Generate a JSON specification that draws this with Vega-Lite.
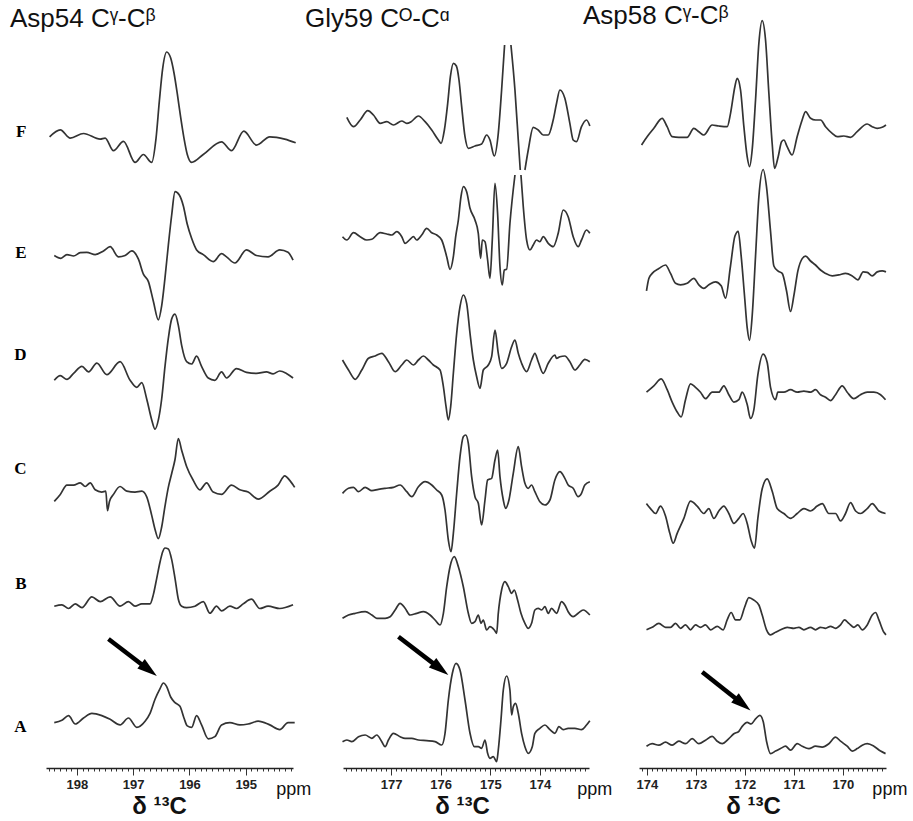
{
"$schema": "https://vega.github.io/schema/vega-lite/v6.json",
"padding": {"left": 10, "top": 3, "right": 5, "bottom": 5},
"bounds": "flush",
"spacing": 50,
"resolve": {"scale": {"x": "independent", "y": "independent"}},
"config": {
  "view": {"stroke": null},
  "font": "Liberation Sans",
  "title": {"font": "Liberation Sans", "fontSize": 26, "fontWeight": "normal", "color": "#111", "anchor": "start", "baseline": "alphabetic", "offset": -12, "frame": "group"},
  "line": {"color": "#333", "strokeWidth": 1.7, "interpolate": "monotone"}
},
"datasets": {
"arrows": [
 {"panel":"Asp54","ppm0":197.44,"amp0":129,"ppm1":196.79,"amp1":101,"ppm2":196.58,"amp2":92},
 {"panel":"Gly59","ppm0":176.852,"amp0":131.3,"ppm1":176.086,"amp1":102.1,"ppm2":175.846,"amp2":93},
 {"panel":"Asp58","ppm0":172.87,"amp0":96.1,"ppm1":172.123,"amp1":66.9,"ppm2":171.884,"amp2":57.5}
],
"notes": [
 {"panel":"Asp54","ppm":194.147,"amp":-27,"text":"ppm"},
 {"panel":"Gly59","ppm":172.893,"amp":-27,"text":"ppm"},
 {"panel":"Asp58","ppm":169.041,"amp":-27,"text":"ppm"}
],
"asp54": [
{"row":"F","ppm":198.486,"amp":631.2},{"row":"F","ppm":198.296,"amp":638.2},{"row":"F","ppm":198.119,"amp":629.9},{"row":"F","ppm":197.883,"amp":634.5},{"row":"F","ppm":197.587,"amp":628.9},{"row":"F","ppm":197.499,"amp":629.9},{"row":"F","ppm":197.351,"amp":617.3},{"row":"F","ppm":197.173,"amp":626.6},{"row":"F","ppm":196.967,"amp":605.6},{"row":"F","ppm":196.819,"amp":613.5},{"row":"F","ppm":196.671,"amp":605.6},{"row":"F","ppm":196.594,"amp":629.9},{"row":"F","ppm":196.535,"amp":667.1},{"row":"F","ppm":196.476,"amp":699.7},{"row":"F","ppm":196.405,"amp":716.0},{"row":"F","ppm":196.334,"amp":709.9},{"row":"F","ppm":196.275,"amp":695.0},{"row":"F","ppm":196.216,"amp":674.1},{"row":"F","ppm":196.157,"amp":650.8},{"row":"F","ppm":196.098,"amp":629.9},{"row":"F","ppm":196.039,"amp":613.5},{"row":"F","ppm":195.962,"amp":605.6},{"row":"F","ppm":195.755,"amp":613.5},{"row":"F","ppm":195.430,"amp":626.1},{"row":"F","ppm":195.253,"amp":617.3},{"row":"F","ppm":195.034,"amp":636.8},{"row":"F","ppm":194.809,"amp":622.9},{"row":"F","ppm":194.573,"amp":631.2},{"row":"F","ppm":194.307,"amp":628.9},{"row":"F","ppm":194.112,"amp":625.2},
{"row":"E","ppm":198.403,"amp":512.5},{"row":"E","ppm":198.285,"amp":509.7},{"row":"E","ppm":198.178,"amp":513.4},{"row":"E","ppm":198.060,"amp":512.0},{"row":"E","ppm":197.942,"amp":515.3},{"row":"E","ppm":197.824,"amp":515.7},{"row":"E","ppm":197.676,"amp":513.4},{"row":"E","ppm":197.528,"amp":517.1},{"row":"E","ppm":197.410,"amp":521.3},{"row":"E","ppm":197.262,"amp":511.1},{"row":"E","ppm":197.144,"amp":512.5},{"row":"E","ppm":197.026,"amp":517.1},{"row":"E","ppm":196.907,"amp":508.8},{"row":"E","ppm":196.819,"amp":493.9},{"row":"E","ppm":196.730,"amp":486.4},{"row":"E","ppm":196.642,"amp":466.8},{"row":"E","ppm":196.553,"amp":448.2},{"row":"E","ppm":196.494,"amp":462.2},{"row":"E","ppm":196.435,"amp":490.1},{"row":"E","ppm":196.376,"amp":522.7},{"row":"E","ppm":196.316,"amp":553.0},{"row":"E","ppm":196.257,"amp":576.3},{"row":"E","ppm":196.181,"amp":573.0},{"row":"E","ppm":196.110,"amp":562.3},{"row":"E","ppm":196.039,"amp":543.7},{"row":"E","ppm":195.962,"amp":529.7},{"row":"E","ppm":195.873,"amp":518.1},{"row":"E","ppm":195.755,"amp":513.4},{"row":"E","ppm":195.578,"amp":506.4},{"row":"E","ppm":195.430,"amp":514.3},{"row":"E","ppm":195.341,"amp":511.1},{"row":"E","ppm":195.193,"amp":505.0},{"row":"E","ppm":194.987,"amp":518.1},{"row":"E","ppm":194.809,"amp":512.5},{"row":"E","ppm":194.603,"amp":511.1},{"row":"E","ppm":194.396,"amp":518.1},{"row":"E","ppm":194.248,"amp":515.7},{"row":"E","ppm":194.159,"amp":507.8},
{"row":"D","ppm":198.403,"amp":387.7},{"row":"D","ppm":198.296,"amp":392.3},{"row":"D","ppm":198.178,"amp":388.6},{"row":"D","ppm":198.060,"amp":394.6},{"row":"D","ppm":197.912,"amp":401.6},{"row":"D","ppm":197.794,"amp":396.1},{"row":"D","ppm":197.646,"amp":404.9},{"row":"D","ppm":197.469,"amp":393.3},{"row":"D","ppm":197.233,"amp":406.3},{"row":"D","ppm":197.055,"amp":387.7},{"row":"D","ppm":196.937,"amp":380.7},{"row":"D","ppm":196.848,"amp":385.3},{"row":"D","ppm":196.760,"amp":369.0},{"row":"D","ppm":196.671,"amp":348.1},{"row":"D","ppm":196.612,"amp":338.8},{"row":"D","ppm":196.553,"amp":348.1},{"row":"D","ppm":196.494,"amp":369.0},{"row":"D","ppm":196.435,"amp":401.6},{"row":"D","ppm":196.376,"amp":429.6},{"row":"D","ppm":196.316,"amp":449.1},{"row":"D","ppm":196.257,"amp":453.8},{"row":"D","ppm":196.198,"amp":442.6},{"row":"D","ppm":196.139,"amp":422.6},{"row":"D","ppm":196.051,"amp":406.3},{"row":"D","ppm":195.962,"amp":404.0},{"row":"D","ppm":195.873,"amp":411.9},{"row":"D","ppm":195.785,"amp":401.6},{"row":"D","ppm":195.666,"amp":390.0},{"row":"D","ppm":195.548,"amp":387.7},{"row":"D","ppm":195.430,"amp":396.1},{"row":"D","ppm":195.341,"amp":390.0},{"row":"D","ppm":195.164,"amp":399.3},{"row":"D","ppm":194.987,"amp":395.6},{"row":"D","ppm":194.809,"amp":394.6},{"row":"D","ppm":194.632,"amp":396.1},{"row":"D","ppm":194.514,"amp":394.2},{"row":"D","ppm":194.396,"amp":397.0},{"row":"D","ppm":194.277,"amp":394.6},{"row":"D","ppm":194.159,"amp":390.0},
{"row":"C","ppm":198.403,"amp":266.6},{"row":"C","ppm":198.296,"amp":273.6},{"row":"C","ppm":198.178,"amp":282.9},{"row":"C","ppm":198.060,"amp":282.9},{"row":"C","ppm":197.942,"amp":285.2},{"row":"C","ppm":197.853,"amp":281.5},{"row":"C","ppm":197.764,"amp":285.2},{"row":"C","ppm":197.676,"amp":278.2},{"row":"C","ppm":197.558,"amp":275.9},{"row":"C","ppm":197.487,"amp":276.8},{"row":"C","ppm":197.457,"amp":257.3},{"row":"C","ppm":197.422,"amp":266.6},{"row":"C","ppm":197.351,"amp":273.6},{"row":"C","ppm":197.233,"amp":281.5},{"row":"C","ppm":197.114,"amp":276.8},{"row":"C","ppm":196.967,"amp":275.9},{"row":"C","ppm":196.848,"amp":276.8},{"row":"C","ppm":196.760,"amp":271.2},{"row":"C","ppm":196.671,"amp":252.6},{"row":"C","ppm":196.612,"amp":238.6},{"row":"C","ppm":196.553,"amp":229.3},{"row":"C","ppm":196.494,"amp":241.0},{"row":"C","ppm":196.435,"amp":261.9},{"row":"C","ppm":196.376,"amp":280.6},{"row":"C","ppm":196.316,"amp":294.5},{"row":"C","ppm":196.257,"amp":308.5},{"row":"C","ppm":196.198,"amp":329.5},{"row":"C","ppm":196.139,"amp":317.8},{"row":"C","ppm":196.051,"amp":301.5},{"row":"C","ppm":195.932,"amp":287.6},{"row":"C","ppm":195.814,"amp":278.2},{"row":"C","ppm":195.696,"amp":285.2},{"row":"C","ppm":195.578,"amp":275.9},{"row":"C","ppm":195.430,"amp":273.6},{"row":"C","ppm":195.253,"amp":282.9},{"row":"C","ppm":195.105,"amp":278.2},{"row":"C","ppm":194.957,"amp":275.9},{"row":"C","ppm":194.780,"amp":268.9},{"row":"C","ppm":194.573,"amp":276.8},{"row":"C","ppm":194.425,"amp":282.9},{"row":"C","ppm":194.307,"amp":292.2},{"row":"C","ppm":194.218,"amp":287.6},{"row":"C","ppm":194.130,"amp":280.6},
{"row":"B","ppm":198.403,"amp":161.8},{"row":"B","ppm":198.267,"amp":163.2},{"row":"B","ppm":198.149,"amp":159.5},{"row":"B","ppm":198.030,"amp":164.1},{"row":"B","ppm":197.912,"amp":160.4},{"row":"B","ppm":197.735,"amp":171.1},{"row":"B","ppm":197.587,"amp":166.4},{"row":"B","ppm":197.410,"amp":171.1},{"row":"B","ppm":197.233,"amp":161.8},{"row":"B","ppm":197.085,"amp":166.4},{"row":"B","ppm":196.967,"amp":161.8},{"row":"B","ppm":196.848,"amp":164.1},{"row":"B","ppm":196.701,"amp":164.1},{"row":"B","ppm":196.642,"amp":173.4},{"row":"B","ppm":196.582,"amp":189.7},{"row":"B","ppm":196.523,"amp":206.0},{"row":"B","ppm":196.476,"amp":216.3},{"row":"B","ppm":196.435,"amp":220.0},{"row":"B","ppm":196.376,"amp":219.1},{"row":"B","ppm":196.316,"amp":208.4},{"row":"B","ppm":196.257,"amp":189.7},{"row":"B","ppm":196.198,"amp":168.8},{"row":"B","ppm":196.139,"amp":161.8},{"row":"B","ppm":196.051,"amp":160.4},{"row":"B","ppm":195.903,"amp":161.8},{"row":"B","ppm":195.755,"amp":166.4},{"row":"B","ppm":195.637,"amp":154.8},{"row":"B","ppm":195.519,"amp":161.8},{"row":"B","ppm":195.430,"amp":157.1},{"row":"B","ppm":195.282,"amp":161.8},{"row":"B","ppm":195.164,"amp":159.5},{"row":"B","ppm":195.046,"amp":164.1},{"row":"B","ppm":194.898,"amp":168.8},{"row":"B","ppm":194.750,"amp":159.5},{"row":"B","ppm":194.603,"amp":161.8},{"row":"B","ppm":194.396,"amp":159.5},{"row":"B","ppm":194.159,"amp":163.2},
{"row":"A","ppm":198.403,"amp":45.4},{"row":"A","ppm":198.267,"amp":47.7},{"row":"A","ppm":198.149,"amp":52.4},{"row":"A","ppm":198.030,"amp":44.0},{"row":"A","ppm":197.883,"amp":50.0},{"row":"A","ppm":197.735,"amp":54.7},{"row":"A","ppm":197.558,"amp":52.4},{"row":"A","ppm":197.410,"amp":48.7},{"row":"A","ppm":197.233,"amp":43.1},{"row":"A","ppm":197.085,"amp":50.0},{"row":"A","ppm":196.937,"amp":40.7},{"row":"A","ppm":196.789,"amp":46.8},{"row":"A","ppm":196.701,"amp":54.7},{"row":"A","ppm":196.612,"amp":68.7},{"row":"A","ppm":196.523,"amp":79.4},{"row":"A","ppm":196.464,"amp":85.0},{"row":"A","ppm":196.405,"amp":81.3},{"row":"A","ppm":196.334,"amp":71.0},{"row":"A","ppm":196.257,"amp":65.4},{"row":"A","ppm":196.169,"amp":61.7},{"row":"A","ppm":196.098,"amp":50.0},{"row":"A","ppm":196.039,"amp":42.1},{"row":"A","ppm":195.962,"amp":40.7},{"row":"A","ppm":195.873,"amp":52.4},{"row":"A","ppm":195.785,"amp":43.1},{"row":"A","ppm":195.666,"amp":29.1},{"row":"A","ppm":195.548,"amp":31.4},{"row":"A","ppm":195.430,"amp":43.1},{"row":"A","ppm":195.282,"amp":45.4},{"row":"A","ppm":195.105,"amp":43.1},{"row":"A","ppm":194.957,"amp":44.0},{"row":"A","ppm":194.780,"amp":46.8},{"row":"A","ppm":194.573,"amp":43.1},{"row":"A","ppm":194.396,"amp":38.4},{"row":"A","ppm":194.248,"amp":45.4},{"row":"A","ppm":194.130,"amp":45.4}
],
"gly59": [
{"row":"F","ppm":177.893,"amp":650.7},{"row":"F","ppm":177.758,"amp":641.3},{"row":"F","ppm":177.624,"amp":648.0},{"row":"F","ppm":177.470,"amp":657.3},{"row":"F","ppm":177.356,"amp":653.0},{"row":"F","ppm":177.221,"amp":644.7},{"row":"F","ppm":177.087,"amp":646.3},{"row":"F","ppm":176.953,"amp":643.0},{"row":"F","ppm":176.785,"amp":647.0},{"row":"F","ppm":176.685,"amp":644.7},{"row":"F","ppm":176.597,"amp":646.3},{"row":"F","ppm":176.450,"amp":652.0},{"row":"F","ppm":176.315,"amp":646.3},{"row":"F","ppm":176.181,"amp":638.0},{"row":"F","ppm":176.047,"amp":628.0},{"row":"F","ppm":175.993,"amp":624.7},{"row":"F","ppm":175.926,"amp":638.0},{"row":"F","ppm":175.859,"amp":664.7},{"row":"F","ppm":175.805,"amp":691.3},{"row":"F","ppm":175.745,"amp":704.7},{"row":"F","ppm":175.684,"amp":702.0},{"row":"F","ppm":175.631,"amp":688.0},{"row":"F","ppm":175.577,"amp":661.3},{"row":"F","ppm":175.510,"amp":631.3},{"row":"F","ppm":175.443,"amp":619.7},{"row":"F","ppm":175.309,"amp":622.0},{"row":"F","ppm":175.175,"amp":624.0},{"row":"F","ppm":175.074,"amp":633.0},{"row":"F","ppm":175.007,"amp":628.0},{"row":"F","ppm":174.920,"amp":612.0},{"row":"F","ppm":174.839,"amp":634.7},{"row":"F","ppm":174.772,"amp":678.0},{"row":"F","ppm":174.712,"amp":723.0},
{"row":"F2","ppm":174.584,"amp":723.0},{"row":"F2","ppm":174.503,"amp":678.0},{"row":"F2","ppm":174.436,"amp":628.0},{"row":"F2","ppm":174.396,"amp":598.0},
{"row":"F3","ppm":174.302,"amp":598.0},{"row":"F3","ppm":174.235,"amp":618.0},{"row":"F3","ppm":174.134,"amp":640.7},{"row":"F3","ppm":174.034,"amp":638.0},{"row":"F3","ppm":173.933,"amp":633.0},{"row":"F3","ppm":173.832,"amp":633.0},{"row":"F3","ppm":173.732,"amp":648.0},{"row":"F3","ppm":173.664,"amp":664.7},{"row":"F3","ppm":173.597,"amp":678.0},{"row":"F3","ppm":173.497,"amp":669.7},{"row":"F3","ppm":173.396,"amp":644.7},{"row":"F3","ppm":173.329,"amp":628.0},{"row":"F3","ppm":173.262,"amp":626.3},{"row":"F3","ppm":173.161,"amp":641.3},{"row":"F3","ppm":173.060,"amp":648.0},{"row":"F3","ppm":172.993,"amp":642.0},
{"row":"E","ppm":177.980,"amp":531.3},{"row":"E","ppm":177.893,"amp":528.0},{"row":"E","ppm":177.758,"amp":535.3},{"row":"E","ppm":177.624,"amp":531.3},{"row":"E","ppm":177.490,"amp":528.0},{"row":"E","ppm":177.389,"amp":528.7},{"row":"E","ppm":177.221,"amp":535.3},{"row":"E","ppm":177.087,"amp":534.0},{"row":"E","ppm":176.987,"amp":533.0},{"row":"E","ppm":176.886,"amp":536.3},{"row":"E","ppm":176.785,"amp":531.3},{"row":"E","ppm":176.718,"amp":524.7},{"row":"E","ppm":176.618,"amp":528.7},{"row":"E","ppm":176.550,"amp":531.3},{"row":"E","ppm":176.483,"amp":528.0},{"row":"E","ppm":176.383,"amp":533.0},{"row":"E","ppm":176.282,"amp":539.7},{"row":"E","ppm":176.181,"amp":535.3},{"row":"E","ppm":176.081,"amp":533.0},{"row":"E","ppm":175.980,"amp":528.0},{"row":"E","ppm":175.879,"amp":511.3},{"row":"E","ppm":175.812,"amp":498.7},{"row":"E","ppm":175.745,"amp":511.3},{"row":"E","ppm":175.698,"amp":531.3},{"row":"E","ppm":175.644,"amp":548.0},{"row":"E","ppm":175.591,"amp":571.3},{"row":"E","ppm":175.544,"amp":581.3},{"row":"E","ppm":175.477,"amp":576.3},{"row":"E","ppm":175.409,"amp":559.7},{"row":"E","ppm":175.309,"amp":548.0},{"row":"E","ppm":175.242,"amp":534.7},{"row":"E","ppm":175.195,"amp":509.7},{"row":"E","ppm":175.161,"amp":528.0},{"row":"E","ppm":175.107,"amp":526.3},{"row":"E","ppm":175.054,"amp":508.0},{"row":"E","ppm":175.007,"amp":489.7},{"row":"E","ppm":174.960,"amp":528.0},{"row":"E","ppm":174.906,"amp":584.7},{"row":"E","ppm":174.853,"amp":554.7},{"row":"E","ppm":174.805,"amp":501.3},{"row":"E","ppm":174.758,"amp":483.0},{"row":"E","ppm":174.718,"amp":498.0},{"row":"E","ppm":174.671,"amp":498.7},{"row":"E","ppm":174.604,"amp":544.7},{"row":"E","ppm":174.503,"amp":593.0},
{"row":"E2","ppm":174.382,"amp":593.0},{"row":"E2","ppm":174.335,"amp":561.3},{"row":"E2","ppm":174.268,"amp":528.0},{"row":"E2","ppm":174.201,"amp":518.0},{"row":"E2","ppm":174.134,"amp":523.0},{"row":"E2","ppm":174.067,"amp":528.0},{"row":"E2","ppm":174.000,"amp":526.3},{"row":"E2","ppm":173.933,"amp":531.3},{"row":"E2","ppm":173.832,"amp":524.7},{"row":"E2","ppm":173.732,"amp":521.3},{"row":"E2","ppm":173.631,"amp":534.7},{"row":"E2","ppm":173.530,"amp":558.0},{"row":"E2","ppm":173.430,"amp":551.3},{"row":"E2","ppm":173.329,"amp":531.3},{"row":"E2","ppm":173.228,"amp":521.3},{"row":"E2","ppm":173.161,"amp":528.0},{"row":"E2","ppm":173.060,"amp":538.0},{"row":"E2","ppm":172.993,"amp":534.7},
{"row":"D","ppm":177.980,"amp":408.0},{"row":"D","ppm":177.859,"amp":398.0},{"row":"D","ppm":177.725,"amp":388.7},{"row":"D","ppm":177.591,"amp":398.0},{"row":"D","ppm":177.456,"amp":409.7},{"row":"D","ppm":177.322,"amp":412.0},{"row":"D","ppm":177.188,"amp":414.7},{"row":"D","ppm":177.054,"amp":406.3},{"row":"D","ppm":176.919,"amp":396.3},{"row":"D","ppm":176.785,"amp":403.0},{"row":"D","ppm":176.685,"amp":408.0},{"row":"D","ppm":176.550,"amp":403.0},{"row":"D","ppm":176.450,"amp":408.0},{"row":"D","ppm":176.349,"amp":412.0},{"row":"D","ppm":176.248,"amp":408.0},{"row":"D","ppm":176.148,"amp":403.0},{"row":"D","ppm":176.013,"amp":398.0},{"row":"D","ppm":175.946,"amp":381.3},{"row":"D","ppm":175.892,"amp":361.3},{"row":"D","ppm":175.846,"amp":348.0},{"row":"D","ppm":175.799,"amp":361.3},{"row":"D","ppm":175.745,"amp":394.7},{"row":"D","ppm":175.678,"amp":434.7},{"row":"D","ppm":175.611,"amp":461.3},{"row":"D","ppm":175.544,"amp":473.0},{"row":"D","ppm":175.477,"amp":464.7},{"row":"D","ppm":175.409,"amp":434.7},{"row":"D","ppm":175.342,"amp":408.0},{"row":"D","ppm":175.275,"amp":391.3},{"row":"D","ppm":175.208,"amp":379.7},{"row":"D","ppm":175.141,"amp":398.0},{"row":"D","ppm":175.040,"amp":403.0},{"row":"D","ppm":174.973,"amp":411.3},{"row":"D","ppm":174.906,"amp":438.0},{"row":"D","ppm":174.839,"amp":414.7},{"row":"D","ppm":174.772,"amp":399.7},{"row":"D","ppm":174.671,"amp":404.7},{"row":"D","ppm":174.570,"amp":421.3},{"row":"D","ppm":174.503,"amp":428.0},{"row":"D","ppm":174.436,"amp":414.7},{"row":"D","ppm":174.369,"amp":404.7},{"row":"D","ppm":174.268,"amp":396.3},{"row":"D","ppm":174.168,"amp":408.0},{"row":"D","ppm":174.101,"amp":414.7},{"row":"D","ppm":174.034,"amp":406.3},{"row":"D","ppm":173.933,"amp":394.7},{"row":"D","ppm":173.832,"amp":404.7},{"row":"D","ppm":173.698,"amp":413.0},{"row":"D","ppm":173.664,"amp":409.7},{"row":"D","ppm":173.597,"amp":411.3},{"row":"D","ppm":173.497,"amp":412.0},{"row":"D","ppm":173.396,"amp":406.3},{"row":"D","ppm":173.295,"amp":398.0},{"row":"D","ppm":173.195,"amp":403.0},{"row":"D","ppm":173.094,"amp":408.7},{"row":"D","ppm":172.993,"amp":406.3},
{"row":"C","ppm":177.980,"amp":274.7},{"row":"C","ppm":177.859,"amp":279.7},{"row":"C","ppm":177.758,"amp":280.7},{"row":"C","ppm":177.658,"amp":276.3},{"row":"C","ppm":177.523,"amp":280.7},{"row":"C","ppm":177.389,"amp":277.3},{"row":"C","ppm":177.255,"amp":278.7},{"row":"C","ppm":177.121,"amp":279.7},{"row":"C","ppm":176.953,"amp":280.7},{"row":"C","ppm":176.819,"amp":283.0},{"row":"C","ppm":176.685,"amp":276.3},{"row":"C","ppm":176.584,"amp":271.3},{"row":"C","ppm":176.450,"amp":281.3},{"row":"C","ppm":176.315,"amp":286.3},{"row":"C","ppm":176.181,"amp":283.0},{"row":"C","ppm":176.081,"amp":278.0},{"row":"C","ppm":175.980,"amp":273.0},{"row":"C","ppm":175.913,"amp":258.0},{"row":"C","ppm":175.846,"amp":228.0},{"row":"C","ppm":175.792,"amp":216.3},{"row":"C","ppm":175.745,"amp":234.7},{"row":"C","ppm":175.678,"amp":274.7},{"row":"C","ppm":175.611,"amp":311.3},{"row":"C","ppm":175.544,"amp":331.3},{"row":"C","ppm":175.497,"amp":333.0},{"row":"C","ppm":175.443,"amp":324.7},{"row":"C","ppm":175.376,"amp":291.3},{"row":"C","ppm":175.309,"amp":271.3},{"row":"C","ppm":175.242,"amp":264.7},{"row":"C","ppm":175.175,"amp":243.0},{"row":"C","ppm":175.107,"amp":268.0},{"row":"C","ppm":175.054,"amp":288.0},{"row":"C","ppm":174.973,"amp":289.7},{"row":"C","ppm":174.906,"amp":308.0},{"row":"C","ppm":174.852,"amp":318.0},{"row":"C","ppm":174.805,"amp":291.3},{"row":"C","ppm":174.738,"amp":268.0},{"row":"C","ppm":174.691,"amp":259.7},{"row":"C","ppm":174.624,"amp":268.0},{"row":"C","ppm":174.537,"amp":294.7},{"row":"C","ppm":174.436,"amp":321.3},{"row":"C","ppm":174.369,"amp":301.3},{"row":"C","ppm":174.302,"amp":284.7},{"row":"C","ppm":174.235,"amp":279.7},{"row":"C","ppm":174.168,"amp":283.0},{"row":"C","ppm":174.101,"amp":276.3},{"row":"C","ppm":174.000,"amp":266.3},{"row":"C","ppm":173.899,"amp":263.0},{"row":"C","ppm":173.798,"amp":268.0},{"row":"C","ppm":173.698,"amp":288.0},{"row":"C","ppm":173.597,"amp":296.3},{"row":"C","ppm":173.497,"amp":289.7},{"row":"C","ppm":173.430,"amp":283.0},{"row":"C","ppm":173.329,"amp":279.7},{"row":"C","ppm":173.228,"amp":271.3},{"row":"C","ppm":173.161,"amp":274.7},{"row":"C","ppm":173.094,"amp":283.0},{"row":"C","ppm":172.993,"amp":286.3},
{"row":"B","ppm":177.980,"amp":149.7},{"row":"B","ppm":177.859,"amp":153.0},{"row":"B","ppm":177.725,"amp":154.7},{"row":"B","ppm":177.523,"amp":156.3},{"row":"B","ppm":177.389,"amp":153.0},{"row":"B","ppm":177.289,"amp":149.7},{"row":"B","ppm":177.121,"amp":149.7},{"row":"B","ppm":177.020,"amp":151.3},{"row":"B","ppm":176.919,"amp":158.0},{"row":"B","ppm":176.819,"amp":164.7},{"row":"B","ppm":176.718,"amp":159.7},{"row":"B","ppm":176.618,"amp":153.0},{"row":"B","ppm":176.483,"amp":154.7},{"row":"B","ppm":176.349,"amp":156.3},{"row":"B","ppm":176.215,"amp":153.0},{"row":"B","ppm":176.114,"amp":148.0},{"row":"B","ppm":176.013,"amp":143.0},{"row":"B","ppm":175.946,"amp":154.7},{"row":"B","ppm":175.879,"amp":181.3},{"row":"B","ppm":175.812,"amp":201.3},{"row":"B","ppm":175.725,"amp":211.3},{"row":"B","ppm":175.644,"amp":201.3},{"row":"B","ppm":175.544,"amp":181.3},{"row":"B","ppm":175.443,"amp":154.7},{"row":"B","ppm":175.376,"amp":144.7},{"row":"B","ppm":175.309,"amp":146.3},{"row":"B","ppm":175.242,"amp":153.0},{"row":"B","ppm":175.188,"amp":144.7},{"row":"B","ppm":175.141,"amp":148.0},{"row":"B","ppm":175.074,"amp":138.0},{"row":"B","ppm":175.007,"amp":141.3},{"row":"B","ppm":174.919,"amp":138.0},{"row":"B","ppm":174.872,"amp":134.7},{"row":"B","ppm":174.839,"amp":154.7},{"row":"B","ppm":174.772,"amp":178.0},{"row":"B","ppm":174.705,"amp":186.3},{"row":"B","ppm":174.637,"amp":181.3},{"row":"B","ppm":174.570,"amp":174.7},{"row":"B","ppm":174.517,"amp":178.0},{"row":"B","ppm":174.450,"amp":168.0},{"row":"B","ppm":174.382,"amp":154.7},{"row":"B","ppm":174.302,"amp":144.7},{"row":"B","ppm":174.235,"amp":139.7},{"row":"B","ppm":174.168,"amp":144.7},{"row":"B","ppm":174.101,"amp":158.0},{"row":"B","ppm":174.034,"amp":159.7},{"row":"B","ppm":173.966,"amp":158.0},{"row":"B","ppm":173.899,"amp":161.3},{"row":"B","ppm":173.832,"amp":154.7},{"row":"B","ppm":173.765,"amp":159.7},{"row":"B","ppm":173.664,"amp":154.7},{"row":"B","ppm":173.564,"amp":166.3},{"row":"B","ppm":173.497,"amp":163.0},{"row":"B","ppm":173.430,"amp":156.3},{"row":"B","ppm":173.329,"amp":151.3},{"row":"B","ppm":173.228,"amp":154.7},{"row":"B","ppm":173.128,"amp":158.0},{"row":"B","ppm":172.993,"amp":153.0},
{"row":"A","ppm":177.980,"amp":26.3},{"row":"A","ppm":177.893,"amp":28.0},{"row":"A","ppm":177.792,"amp":26.3},{"row":"A","ppm":177.658,"amp":31.3},{"row":"A","ppm":177.523,"amp":33.0},{"row":"A","ppm":177.389,"amp":29.7},{"row":"A","ppm":177.289,"amp":33.0},{"row":"A","ppm":177.188,"amp":26.3},{"row":"A","ppm":177.121,"amp":21.3},{"row":"A","ppm":177.054,"amp":28.0},{"row":"A","ppm":176.953,"amp":34.7},{"row":"A","ppm":176.819,"amp":31.3},{"row":"A","ppm":176.718,"amp":29.7},{"row":"A","ppm":176.584,"amp":29.7},{"row":"A","ppm":176.450,"amp":28.0},{"row":"A","ppm":176.282,"amp":27.3},{"row":"A","ppm":176.114,"amp":26.3},{"row":"A","ppm":175.980,"amp":23.0},{"row":"A","ppm":175.913,"amp":34.7},{"row":"A","ppm":175.846,"amp":68.0},{"row":"A","ppm":175.765,"amp":94.7},{"row":"A","ppm":175.691,"amp":104.7},{"row":"A","ppm":175.611,"amp":98.0},{"row":"A","ppm":175.510,"amp":68.0},{"row":"A","ppm":175.409,"amp":34.7},{"row":"A","ppm":175.322,"amp":21.3},{"row":"A","ppm":175.242,"amp":21.3},{"row":"A","ppm":175.175,"amp":19.7},{"row":"A","ppm":175.107,"amp":28.0},{"row":"A","ppm":175.054,"amp":14.7},{"row":"A","ppm":175.007,"amp":9.7},{"row":"A","ppm":174.940,"amp":11.3},{"row":"A","ppm":174.872,"amp":6.3},{"row":"A","ppm":174.839,"amp":18.0},{"row":"A","ppm":174.785,"amp":48.0},{"row":"A","ppm":174.738,"amp":78.0},{"row":"A","ppm":174.671,"amp":92.0},{"row":"A","ppm":174.604,"amp":78.0},{"row":"A","ppm":174.570,"amp":53.0},{"row":"A","ppm":174.537,"amp":61.3},{"row":"A","ppm":174.490,"amp":64.7},{"row":"A","ppm":174.436,"amp":54.7},{"row":"A","ppm":174.369,"amp":34.7},{"row":"A","ppm":174.302,"amp":21.3},{"row":"A","ppm":174.235,"amp":14.7},{"row":"A","ppm":174.154,"amp":21.3},{"row":"A","ppm":174.101,"amp":34.7},{"row":"A","ppm":174.000,"amp":39.7},{"row":"A","ppm":173.899,"amp":43.0},{"row":"A","ppm":173.798,"amp":38.3},{"row":"A","ppm":173.698,"amp":34.7},{"row":"A","ppm":173.617,"amp":41.3},{"row":"A","ppm":173.530,"amp":38.3},{"row":"A","ppm":173.430,"amp":39.7},{"row":"A","ppm":173.295,"amp":39.7},{"row":"A","ppm":173.161,"amp":38.3},{"row":"A","ppm":173.060,"amp":43.0},{"row":"A","ppm":172.993,"amp":47.3}
],
"asp58": [
{"row":"F","ppm":174.108,"amp":623.0},{"row":"F","ppm":173.994,"amp":631.3},{"row":"F","ppm":173.857,"amp":639.7},{"row":"F","ppm":173.688,"amp":649.7},{"row":"F","ppm":173.586,"amp":641.3},{"row":"F","ppm":173.484,"amp":631.3},{"row":"F","ppm":173.347,"amp":630.7},{"row":"F","ppm":173.178,"amp":630.7},{"row":"F","ppm":173.041,"amp":639.7},{"row":"F","ppm":172.939,"amp":636.3},{"row":"F","ppm":172.837,"amp":633.0},{"row":"F","ppm":172.667,"amp":643.0},{"row":"F","ppm":172.531,"amp":642.0},{"row":"F","ppm":172.361,"amp":641.3},{"row":"F","ppm":172.292,"amp":654.7},{"row":"F","ppm":172.204,"amp":681.3},{"row":"F","ppm":172.157,"amp":689.7},{"row":"F","ppm":172.088,"amp":678.0},{"row":"F","ppm":172.020,"amp":641.3},{"row":"F","ppm":171.953,"amp":611.3},{"row":"F","ppm":171.904,"amp":601.3},{"row":"F","ppm":171.851,"amp":618.0},{"row":"F","ppm":171.782,"amp":668.0},{"row":"F","ppm":171.714,"amp":724.7},{"row":"F","ppm":171.647,"amp":747.3},{"row":"F","ppm":171.578,"amp":728.0},{"row":"F","ppm":171.510,"amp":674.7},{"row":"F","ppm":171.443,"amp":624.7},{"row":"F","ppm":171.394,"amp":599.7},{"row":"F","ppm":171.320,"amp":611.3},{"row":"F","ppm":171.251,"amp":626.3},{"row":"F","ppm":171.204,"amp":628.0},{"row":"F","ppm":171.137,"amp":621.3},{"row":"F","ppm":171.035,"amp":613.0},{"row":"F","ppm":170.933,"amp":631.3},{"row":"F","ppm":170.831,"amp":648.0},{"row":"F","ppm":170.761,"amp":656.3},{"row":"F","ppm":170.659,"amp":649.7},{"row":"F","ppm":170.557,"amp":648.0},{"row":"F","ppm":170.455,"amp":648.0},{"row":"F","ppm":170.353,"amp":641.3},{"row":"F","ppm":170.218,"amp":634.7},{"row":"F","ppm":170.116,"amp":631.3},{"row":"F","ppm":169.980,"amp":632.0},{"row":"F","ppm":169.843,"amp":630.7},{"row":"F","ppm":169.708,"amp":636.3},{"row":"F","ppm":169.504,"amp":644.0},{"row":"F","ppm":169.402,"amp":641.3},{"row":"F","ppm":169.300,"amp":639.7},{"row":"F","ppm":169.198,"amp":640.7},{"row":"F","ppm":169.120,"amp":643.0},
{"row":"E","ppm":174.007,"amp":477.2},{"row":"E","ppm":173.959,"amp":489.6},{"row":"E","ppm":173.891,"amp":494.6},{"row":"E","ppm":173.755,"amp":499.5},{"row":"E","ppm":173.619,"amp":503.0},{"row":"E","ppm":173.517,"amp":494.6},{"row":"E","ppm":173.415,"amp":484.7},{"row":"E","ppm":173.313,"amp":483.2},{"row":"E","ppm":173.177,"amp":484.7},{"row":"E","ppm":173.041,"amp":489.6},{"row":"E","ppm":172.939,"amp":483.2},{"row":"E","ppm":172.837,"amp":479.7},{"row":"E","ppm":172.735,"amp":483.2},{"row":"E","ppm":172.599,"amp":486.2},{"row":"E","ppm":172.483,"amp":482.2},{"row":"E","ppm":172.395,"amp":469.8},{"row":"E","ppm":172.293,"amp":502.0},{"row":"E","ppm":172.204,"amp":531.7},{"row":"E","ppm":172.136,"amp":536.7},{"row":"E","ppm":172.075,"amp":511.9},{"row":"E","ppm":172.007,"amp":472.3},{"row":"E","ppm":171.952,"amp":440.1},{"row":"E","ppm":171.905,"amp":427.7},{"row":"E","ppm":171.850,"amp":452.5},{"row":"E","ppm":171.782,"amp":511.9},{"row":"E","ppm":171.714,"amp":571.3},{"row":"E","ppm":171.626,"amp":598.5},{"row":"E","ppm":171.558,"amp":581.2},{"row":"E","ppm":171.476,"amp":536.7},{"row":"E","ppm":171.408,"amp":502.0},{"row":"E","ppm":171.327,"amp":497.1},{"row":"E","ppm":171.238,"amp":494.6},{"row":"E","ppm":171.150,"amp":477.2},{"row":"E","ppm":171.068,"amp":456.5},{"row":"E","ppm":171.000,"amp":472.3},{"row":"E","ppm":170.918,"amp":497.1},{"row":"E","ppm":170.830,"amp":509.4},{"row":"E","ppm":170.762,"amp":511.9},{"row":"E","ppm":170.660,"amp":507.0},{"row":"E","ppm":170.558,"amp":503.0},{"row":"E","ppm":170.456,"amp":498.0},{"row":"E","ppm":170.354,"amp":494.6},{"row":"E","ppm":170.218,"amp":492.1},{"row":"E","ppm":170.082,"amp":493.1},{"row":"E","ppm":169.946,"amp":494.6},{"row":"E","ppm":169.810,"amp":492.1},{"row":"E","ppm":169.694,"amp":488.1},{"row":"E","ppm":169.585,"amp":496.1},{"row":"E","ppm":169.503,"amp":495.6},{"row":"E","ppm":169.401,"amp":492.1},{"row":"E","ppm":169.299,"amp":496.1},{"row":"E","ppm":169.197,"amp":497.1},{"row":"E","ppm":169.120,"amp":496.1},
{"row":"D","ppm":174.007,"amp":375.8},{"row":"D","ppm":173.857,"amp":382.2},{"row":"D","ppm":173.707,"amp":389.1},{"row":"D","ppm":173.585,"amp":378.3},{"row":"D","ppm":173.483,"amp":365.9},{"row":"D","ppm":173.381,"amp":356.0},{"row":"D","ppm":173.299,"amp":351.0},{"row":"D","ppm":173.211,"amp":368.3},{"row":"D","ppm":173.109,"amp":384.2},{"row":"D","ppm":173.007,"amp":380.7},{"row":"D","ppm":172.905,"amp":375.8},{"row":"D","ppm":172.803,"amp":369.3},{"row":"D","ppm":172.667,"amp":375.8},{"row":"D","ppm":172.531,"amp":375.8},{"row":"D","ppm":172.429,"amp":382.2},{"row":"D","ppm":172.327,"amp":373.3},{"row":"D","ppm":172.224,"amp":365.9},{"row":"D","ppm":172.122,"amp":368.3},{"row":"D","ppm":172.054,"amp":375.8},{"row":"D","ppm":171.952,"amp":363.4},{"row":"D","ppm":171.884,"amp":349.5},{"row":"D","ppm":171.816,"amp":358.4},{"row":"D","ppm":171.735,"amp":393.1},{"row":"D","ppm":171.626,"amp":413.9},{"row":"D","ppm":171.544,"amp":405.5},{"row":"D","ppm":171.476,"amp":380.7},{"row":"D","ppm":171.374,"amp":368.3},{"row":"D","ppm":171.327,"amp":375.8},{"row":"D","ppm":171.204,"amp":375.8},{"row":"D","ppm":171.068,"amp":378.3},{"row":"D","ppm":170.932,"amp":375.8},{"row":"D","ppm":170.796,"amp":376.8},{"row":"D","ppm":170.660,"amp":375.8},{"row":"D","ppm":170.558,"amp":378.3},{"row":"D","ppm":170.456,"amp":373.3},{"row":"D","ppm":170.354,"amp":370.8},{"row":"D","ppm":170.252,"amp":367.4},{"row":"D","ppm":170.150,"amp":373.3},{"row":"D","ppm":170.014,"amp":382.2},{"row":"D","ppm":169.912,"amp":375.8},{"row":"D","ppm":169.776,"amp":369.3},{"row":"D","ppm":169.640,"amp":373.3},{"row":"D","ppm":169.503,"amp":375.8},{"row":"D","ppm":169.367,"amp":375.8},{"row":"D","ppm":169.231,"amp":373.3},{"row":"D","ppm":169.129,"amp":368.3},
{"row":"C","ppm":174.007,"amp":264.4},{"row":"C","ppm":173.925,"amp":259.4},{"row":"C","ppm":173.823,"amp":254.5},{"row":"C","ppm":173.721,"amp":261.9},{"row":"C","ppm":173.619,"amp":252.0},{"row":"C","ppm":173.531,"amp":234.7},{"row":"C","ppm":173.463,"amp":224.8},{"row":"C","ppm":173.381,"amp":234.7},{"row":"C","ppm":173.245,"amp":249.6},{"row":"C","ppm":173.109,"amp":266.9},{"row":"C","ppm":172.973,"amp":261.9},{"row":"C","ppm":172.837,"amp":254.5},{"row":"C","ppm":172.735,"amp":259.4},{"row":"C","ppm":172.633,"amp":249.6},{"row":"C","ppm":172.531,"amp":257.0},{"row":"C","ppm":172.429,"amp":261.9},{"row":"C","ppm":172.327,"amp":254.5},{"row":"C","ppm":172.224,"amp":244.6},{"row":"C","ppm":172.122,"amp":249.6},{"row":"C","ppm":172.034,"amp":254.5},{"row":"C","ppm":171.952,"amp":244.6},{"row":"C","ppm":171.871,"amp":227.3},{"row":"C","ppm":171.803,"amp":219.9},{"row":"C","ppm":171.735,"amp":249.6},{"row":"C","ppm":171.646,"amp":279.3},{"row":"C","ppm":171.544,"amp":289.2},{"row":"C","ppm":171.442,"amp":276.8},{"row":"C","ppm":171.340,"amp":259.4},{"row":"C","ppm":171.204,"amp":254.5},{"row":"C","ppm":171.068,"amp":249.6},{"row":"C","ppm":170.932,"amp":254.5},{"row":"C","ppm":170.796,"amp":259.4},{"row":"C","ppm":170.660,"amp":257.0},{"row":"C","ppm":170.524,"amp":261.9},{"row":"C","ppm":170.422,"amp":264.4},{"row":"C","ppm":170.286,"amp":254.5},{"row":"C","ppm":170.150,"amp":254.5},{"row":"C","ppm":170.048,"amp":247.1},{"row":"C","ppm":169.946,"amp":254.5},{"row":"C","ppm":169.843,"amp":265.4},{"row":"C","ppm":169.741,"amp":257.0},{"row":"C","ppm":169.640,"amp":254.5},{"row":"C","ppm":169.503,"amp":259.4},{"row":"C","ppm":169.401,"amp":264.4},{"row":"C","ppm":169.265,"amp":257.0},{"row":"C","ppm":169.129,"amp":254.5},
{"row":"B","ppm":174.007,"amp":138.2},{"row":"B","ppm":173.891,"amp":140.7},{"row":"B","ppm":173.755,"amp":144.6},{"row":"B","ppm":173.619,"amp":140.7},{"row":"B","ppm":173.517,"amp":140.7},{"row":"B","ppm":173.415,"amp":144.6},{"row":"B","ppm":173.313,"amp":139.7},{"row":"B","ppm":173.211,"amp":143.1},{"row":"B","ppm":173.109,"amp":138.2},{"row":"B","ppm":173.007,"amp":143.1},{"row":"B","ppm":172.905,"amp":140.7},{"row":"B","ppm":172.803,"amp":143.1},{"row":"B","ppm":172.701,"amp":138.2},{"row":"B","ppm":172.565,"amp":141.6},{"row":"B","ppm":172.442,"amp":138.2},{"row":"B","ppm":172.361,"amp":148.1},{"row":"B","ppm":172.279,"amp":155.5},{"row":"B","ppm":172.190,"amp":148.1},{"row":"B","ppm":172.102,"amp":148.1},{"row":"B","ppm":172.007,"amp":160.5},{"row":"B","ppm":171.918,"amp":170.4},{"row":"B","ppm":171.816,"amp":167.9},{"row":"B","ppm":171.714,"amp":163.0},{"row":"B","ppm":171.646,"amp":153.0},{"row":"B","ppm":171.558,"amp":138.2},{"row":"B","ppm":171.476,"amp":133.2},{"row":"B","ppm":171.374,"amp":135.7},{"row":"B","ppm":171.272,"amp":138.2},{"row":"B","ppm":171.136,"amp":140.7},{"row":"B","ppm":171.000,"amp":139.7},{"row":"B","ppm":170.898,"amp":140.7},{"row":"B","ppm":170.796,"amp":138.2},{"row":"B","ppm":170.660,"amp":140.7},{"row":"B","ppm":170.558,"amp":138.2},{"row":"B","ppm":170.456,"amp":140.7},{"row":"B","ppm":170.354,"amp":139.7},{"row":"B","ppm":170.252,"amp":141.6},{"row":"B","ppm":170.150,"amp":139.7},{"row":"B","ppm":170.048,"amp":143.1},{"row":"B","ppm":169.966,"amp":148.1},{"row":"B","ppm":169.878,"amp":144.6},{"row":"B","ppm":169.776,"amp":140.7},{"row":"B","ppm":169.694,"amp":143.1},{"row":"B","ppm":169.605,"amp":138.2},{"row":"B","ppm":169.503,"amp":143.1},{"row":"B","ppm":169.401,"amp":153.0},{"row":"B","ppm":169.333,"amp":155.5},{"row":"B","ppm":169.265,"amp":148.1},{"row":"B","ppm":169.163,"amp":135.7},{"row":"B","ppm":169.120,"amp":133.2},
{"row":"A","ppm":174.007,"amp":21.8},{"row":"A","ppm":173.891,"amp":24.3},{"row":"A","ppm":173.755,"amp":22.8},{"row":"A","ppm":173.619,"amp":25.8},{"row":"A","ppm":173.483,"amp":22.8},{"row":"A","ppm":173.347,"amp":26.8},{"row":"A","ppm":173.211,"amp":24.3},{"row":"A","ppm":173.075,"amp":29.3},{"row":"A","ppm":172.939,"amp":24.3},{"row":"A","ppm":172.803,"amp":27.8},{"row":"A","ppm":172.667,"amp":31.7},{"row":"A","ppm":172.565,"amp":26.8},{"row":"A","ppm":172.463,"amp":24.3},{"row":"A","ppm":172.327,"amp":29.3},{"row":"A","ppm":172.224,"amp":34.2},{"row":"A","ppm":172.122,"amp":36.7},{"row":"A","ppm":172.054,"amp":41.6},{"row":"A","ppm":171.952,"amp":45.6},{"row":"A","ppm":171.871,"amp":44.1},{"row":"A","ppm":171.782,"amp":49.1},{"row":"A","ppm":171.694,"amp":52.6},{"row":"A","ppm":171.626,"amp":46.6},{"row":"A","ppm":171.558,"amp":26.8},{"row":"A","ppm":171.476,"amp":14.4},{"row":"A","ppm":171.374,"amp":16.9},{"row":"A","ppm":171.272,"amp":19.4},{"row":"A","ppm":171.170,"amp":21.8},{"row":"A","ppm":171.068,"amp":17.9},{"row":"A","ppm":170.932,"amp":24.3},{"row":"A","ppm":170.830,"amp":21.8},{"row":"A","ppm":170.694,"amp":19.4},{"row":"A","ppm":170.558,"amp":21.8},{"row":"A","ppm":170.422,"amp":20.9},{"row":"A","ppm":170.286,"amp":24.3},{"row":"A","ppm":170.150,"amp":30.8},{"row":"A","ppm":170.048,"amp":26.8},{"row":"A","ppm":169.912,"amp":21.8},{"row":"A","ppm":169.810,"amp":16.9},{"row":"A","ppm":169.707,"amp":19.4},{"row":"A","ppm":169.605,"amp":22.8},{"row":"A","ppm":169.503,"amp":24.3},{"row":"A","ppm":169.367,"amp":21.8},{"row":"A","ppm":169.231,"amp":16.9},{"row":"A","ppm":169.129,"amp":14.4}
]
},
"hconcat": [
{
 "width": 247, "height": 748,
 "title": {"text": "Asp54 Cᵞ-Cᵝ", "dx": -36},
 "layer": [
  {"data": {"name": "asp54"}, "mark": {"type": "line"},
   "encoding": {
    "x": {"field": "ppm", "type": "quantitative", "scale": {"domain": [198.55, 194.16], "nice": false, "zero": false},
      "axis": {"tickCount": 44, "grid": false, "domainColor": "#222", "domainWidth": 1.5, "tickColor": "#333", "tickWidth": 1,
        "tickSize": {"condition": {"test": "abs(datum.value - round(datum.value)) < 0.001", "value": 7}, "value": 3},
        "labelExpr": "abs(datum.value - round(datum.value)) < 0.001 ? format(round(datum.value), 'd') : ''",
        "labelFont": "Liberation Sans", "labelFontWeight": "bold", "labelFontSize": 13, "labelColor": "#222", "labelPadding": 3,
        "labelOverlap": false, "labelFlush": false, "labelBound": false,
        "title": "δ ¹³C", "titleFont": "Liberation Sans", "titleFontSize": 24, "titleFontWeight": "bold", "titleColor": "#111",
        "titleX": 113, "titleY": 45, "titleBaseline": "alphabetic", "titleAlign": "center"}},
    "y": {"field": "amp", "type": "quantitative", "scale": {"domain": [0, 748], "nice": false, "zero": false},
      "axis": {"values": [42, 185, 300, 414, 516, 637],
        "labelExpr": "datum.value == 637 ? 'F' : datum.value == 516 ? 'E' : datum.value == 414 ? 'D' : datum.value == 300 ? 'C' : datum.value == 185 ? 'B' : 'A'",
        "domain": false, "ticks": false, "grid": false, "title": null,
        "labelFont": "Liberation Serif", "labelFontWeight": "bold", "labelFontSize": 17, "labelColor": "#000", "labelPadding": 20}},
    "detail": {"field": "row", "type": "nominal"},
    "order": {"field": "ppm", "type": "quantitative", "sort": "descending"}}},
  {"data": {"name": "arrows"}, "transform": [{"filter": "datum.panel === 'Asp54'"}],
   "mark": {"type": "rule", "color": "#000", "strokeWidth": 4.5},
   "encoding": {"x": {"field": "ppm0", "type": "quantitative", "scale": {"domain": [198.55, 194.16], "nice": false, "zero": false}},
     "y": {"field": "amp0", "type": "quantitative", "scale": {"domain": [0, 748], "nice": false, "zero": false}},
     "x2": {"field": "ppm1"}, "y2": {"field": "amp1"}}},
  {"data": {"name": "arrows"}, "transform": [{"filter": "datum.panel === 'Asp54'"}],
   "mark": {"type": "point", "shape": "M0,0L-2,-0.6L-2,0.6Z", "size": 400, "filled": true, "color": "#000", "opacity": 1, "angle": 38},
   "encoding": {"x": {"field": "ppm2", "type": "quantitative", "scale": {"domain": [198.55, 194.16], "nice": false, "zero": false}},
     "y": {"field": "amp2", "type": "quantitative", "scale": {"domain": [0, 748], "nice": false, "zero": false}}}},
  {"data": {"name": "notes"}, "transform": [{"filter": "datum.panel === 'Asp54'"}],
   "mark": {"type": "text", "fontSize": 18, "font": "Liberation Sans", "align": "center", "baseline": "alphabetic", "color": "#111"},
   "encoding": {"x": {"field": "ppm", "type": "quantitative", "scale": {"domain": [198.55, 194.16], "nice": false, "zero": false}},
     "y": {"field": "amp", "type": "quantitative", "scale": {"domain": [0, 748], "nice": false, "zero": false}},
     "text": {"field": "text"}}}
 ]
},
{
 "width": 246, "height": 748,
 "title": {"text": "Gly59 Cᴼ-Cᵅ", "dx": -38},
 "layer": [
  {"data": {"name": "gly59"}, "mark": {"type": "line"},
   "encoding": {
    "x": {"field": "ppm", "type": "quantitative", "scale": {"domain": [177.97, 173.01], "nice": false, "zero": false},
      "axis": {"tickCount": 44, "grid": false, "domainColor": "#222", "domainWidth": 1.5, "tickColor": "#333", "tickWidth": 1,
        "tickSize": {"condition": {"test": "abs(datum.value - round(datum.value)) < 0.001", "value": 7}, "value": 3},
        "labelExpr": "abs(datum.value - round(datum.value)) < 0.001 ? format(round(datum.value), 'd') : ''",
        "labelFont": "Liberation Sans", "labelFontWeight": "bold", "labelFontSize": 13, "labelColor": "#222", "labelPadding": 3,
        "labelOverlap": false, "labelFlush": false, "labelBound": false,
        "title": "δ ¹³C", "titleFont": "Liberation Sans", "titleFontSize": 24, "titleFontWeight": "bold", "titleColor": "#111",
        "titleX": 119, "titleY": 45, "titleBaseline": "alphabetic", "titleAlign": "center"}},
    "y": {"field": "amp", "type": "quantitative", "scale": {"domain": [0, 748], "nice": false, "zero": false}, "axis": null},
    "detail": {"field": "row", "type": "nominal"},
    "order": {"field": "ppm", "type": "quantitative", "sort": "descending"}}},
  {"data": {"name": "arrows"}, "transform": [{"filter": "datum.panel === 'Gly59'"}],
   "mark": {"type": "rule", "color": "#000", "strokeWidth": 4.5},
   "encoding": {"x": {"field": "ppm0", "type": "quantitative", "scale": {"domain": [177.97, 173.01], "nice": false, "zero": false}},
     "y": {"field": "amp0", "type": "quantitative", "scale": {"domain": [0, 748], "nice": false, "zero": false}, "axis": null},
     "x2": {"field": "ppm1"}, "y2": {"field": "amp1"}}},
  {"data": {"name": "arrows"}, "transform": [{"filter": "datum.panel === 'Gly59'"}],
   "mark": {"type": "point", "shape": "M0,0L-2,-0.6L-2,0.6Z", "size": 400, "filled": true, "color": "#000", "opacity": 1, "angle": 38},
   "encoding": {"x": {"field": "ppm2", "type": "quantitative", "scale": {"domain": [177.97, 173.01], "nice": false, "zero": false}},
     "y": {"field": "amp2", "type": "quantitative", "scale": {"domain": [0, 748], "nice": false, "zero": false}, "axis": null}}},
  {"data": {"name": "notes"}, "transform": [{"filter": "datum.panel === 'Gly59'"}],
   "mark": {"type": "text", "fontSize": 18, "font": "Liberation Sans", "align": "center", "baseline": "alphabetic", "color": "#111"},
   "encoding": {"x": {"field": "ppm", "type": "quantitative", "scale": {"domain": [177.97, 173.01], "nice": false, "zero": false}},
     "y": {"field": "amp", "type": "quantitative", "scale": {"domain": [0, 748], "nice": false, "zero": false}, "axis": null},
     "text": {"field": "text"}}}
 ]
},
{
 "width": 247, "height": 748,
 "title": {"text": "Asp58 Cᵞ-Cᵝ", "dx": -56},
 "layer": [
  {"data": {"name": "asp58"}, "mark": {"type": "line"},
   "encoding": {
    "x": {"field": "ppm", "type": "quantitative", "scale": {"domain": [174.16, 169.12], "nice": false, "zero": false},
      "axis": {"tickCount": 44, "grid": false, "domainColor": "#222", "domainWidth": 1.5, "tickColor": "#333", "tickWidth": 1,
        "tickSize": {"condition": {"test": "abs(datum.value - round(datum.value)) < 0.001", "value": 7}, "value": 3},
        "labelExpr": "abs(datum.value - round(datum.value)) < 0.001 ? format(round(datum.value), 'd') : ''",
        "labelFont": "Liberation Sans", "labelFontWeight": "bold", "labelFontSize": 13, "labelColor": "#222", "labelPadding": 3,
        "labelOverlap": false, "labelFlush": false, "labelBound": false,
        "title": "δ ¹³C", "titleFont": "Liberation Sans", "titleFontSize": 24, "titleFontWeight": "bold", "titleColor": "#111",
        "titleX": 114, "titleY": 45, "titleBaseline": "alphabetic", "titleAlign": "center"}},
    "y": {"field": "amp", "type": "quantitative", "scale": {"domain": [0, 748], "nice": false, "zero": false}, "axis": null},
    "detail": {"field": "row", "type": "nominal"},
    "order": {"field": "ppm", "type": "quantitative", "sort": "descending"}}},
  {"data": {"name": "arrows"}, "transform": [{"filter": "datum.panel === 'Asp58'"}],
   "mark": {"type": "rule", "color": "#000", "strokeWidth": 4.5},
   "encoding": {"x": {"field": "ppm0", "type": "quantitative", "scale": {"domain": [174.16, 169.12], "nice": false, "zero": false}},
     "y": {"field": "amp0", "type": "quantitative", "scale": {"domain": [0, 748], "nice": false, "zero": false}, "axis": null},
     "x2": {"field": "ppm1"}, "y2": {"field": "amp1"}}},
  {"data": {"name": "arrows"}, "transform": [{"filter": "datum.panel === 'Asp58'"}],
   "mark": {"type": "point", "shape": "M0,0L-2,-0.6L-2,0.6Z", "size": 400, "filled": true, "color": "#000", "opacity": 1, "angle": 39},
   "encoding": {"x": {"field": "ppm2", "type": "quantitative", "scale": {"domain": [174.16, 169.12], "nice": false, "zero": false}},
     "y": {"field": "amp2", "type": "quantitative", "scale": {"domain": [0, 748], "nice": false, "zero": false}, "axis": null}}},
  {"data": {"name": "notes"}, "transform": [{"filter": "datum.panel === 'Asp58'"}],
   "mark": {"type": "text", "fontSize": 18, "font": "Liberation Sans", "align": "center", "baseline": "alphabetic", "color": "#111"},
   "encoding": {"x": {"field": "ppm", "type": "quantitative", "scale": {"domain": [174.16, 169.12], "nice": false, "zero": false}},
     "y": {"field": "amp", "type": "quantitative", "scale": {"domain": [0, 748], "nice": false, "zero": false}, "axis": null},
     "text": {"field": "text"}}}
 ]
}
]
}
